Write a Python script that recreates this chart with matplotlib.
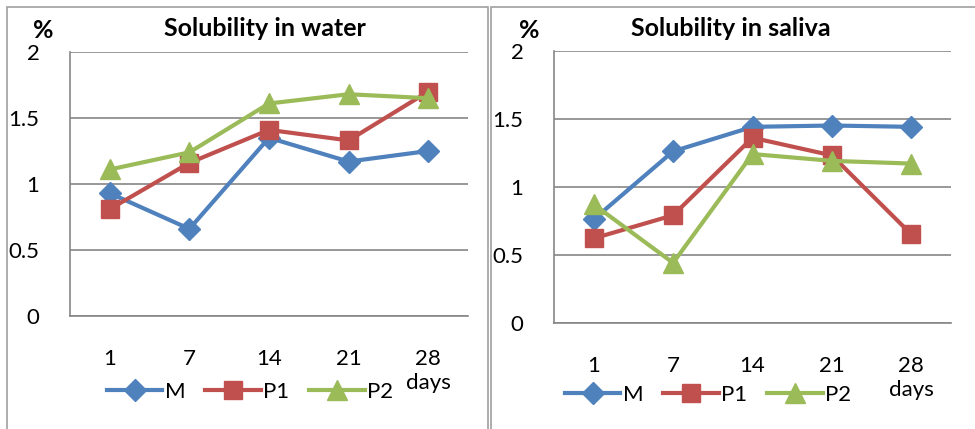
import numpy as np
import matplotlib
matplotlib.use("Agg")
from matplotlib import pyplot as plt
from matplotlib.patches import Rectangle

plt.rcParams["font.family"] = ["Lato", "DejaVu Sans"]

days = ["1", "7", "14", "21", "28"]
series = ["M", "P1", "P2"]

# solubility in water (%)
water_M = [0.93, 0.66, 1.35, 1.17, 1.25]
water_P1 = [0.81, 1.16, 1.41, 1.33, 1.70]
water_P2 = [1.11, 1.24, 1.61, 1.68, 1.65]

# solubility in saliva (%)
saliva_M = [0.76, 1.26, 1.44, 1.45, 1.44]
saliva_P1 = [0.62, 0.79, 1.36, 1.23, 0.65]
saliva_P2 = [0.87, 0.44, 1.24, 1.19, 1.17]

colors = ["#4F81BD", "#C0504D", "#9BBB59"]
markers = ["D", "s", "^"]
msizes = [11, 13, 14]

fig = plt.figure(figsize=(9.75, 4.29), dpi=100)

# panel frames
for x0, w in [(7, 481), (491, 490)]:
    fig.patches.append(Rectangle((x0 / 975, -0.1), w / 975, 1.1 - 7 / 429,
                                 transform=fig.transFigure, fill=False,
                                 edgecolor="#a0a0a0", lw=1.2))

def draw(ax, data, title, title_xy, leg_xy, days_xy, pct_xy):
    x = np.arange(len(days))
    for vals, name, c, m, ms in zip(data, series, colors, markers, msizes):
        ax.plot(x, vals, color=c, lw=3, marker=m, ms=ms, label=name)
    ax.set_xlim(-0.5, len(days) - 0.5)
    ax.set_ylim(0, 2)
    ax.set_yticks([0, 0.5, 1, 1.5, 2])
    ax.set_yticklabels(["0", "0.5", "1", "1.5", "2"])
    ax.set_xticks(x)
    ax.set_xticklabels(days)
    ax.tick_params(length=0, labelsize=16, pad=22)
    ax.tick_params(axis="x", pad=24)
    ax.grid(axis="y", color="#868686", lw=1.2)
    ax.set_axisbelow(True)
    for s in ["top", "right"]:
        ax.spines[s].set_visible(False)
    for s in ["left", "bottom"]:
        ax.spines[s].set_color("#868686")
        ax.spines[s].set_linewidth(1.2)
    fig.text(*title_xy, title, fontsize=18, fontweight="bold", ha="center", va="center")
    ax.legend(loc="center", bbox_to_anchor=leg_xy, bbox_transform=fig.transFigure,
              ncol=3, frameon=False, fontsize=16, handlelength=2.5,
              handletextpad=0.1, columnspacing=0.9)
    fig.text(*days_xy, "days", fontsize=16, ha="center", va="center")
    fig.text(*pct_xy, "%", fontsize=18, fontweight="bold", ha="center", va="center")

ax1 = fig.add_axes([70 / 975, 1 - 316 / 429, 398 / 975, 264 / 429])
draw(ax1, [water_M, water_P1, water_P2], "Solubility in water", (265 / 975, 1 - 28 / 429),
     (250 / 975, 1 - 392 / 429), (428 / 975, 1 - 383 / 429), (43 / 975, 1 - 31 / 429))

ax2 = fig.add_axes([554 / 975, 1 - 322.7 / 429, 397 / 975, 272 / 429])
draw(ax2, [saliva_M, saliva_P1, saliva_P2], "Solubility in saliva", (731 / 975, 1 - 28 / 429),
     (708 / 975, 1 - 395 / 429), (911 / 975, 1 - 390 / 429), (529 / 975, 1 - 31 / 429))

fig.savefig("out.png", dpi=100)
